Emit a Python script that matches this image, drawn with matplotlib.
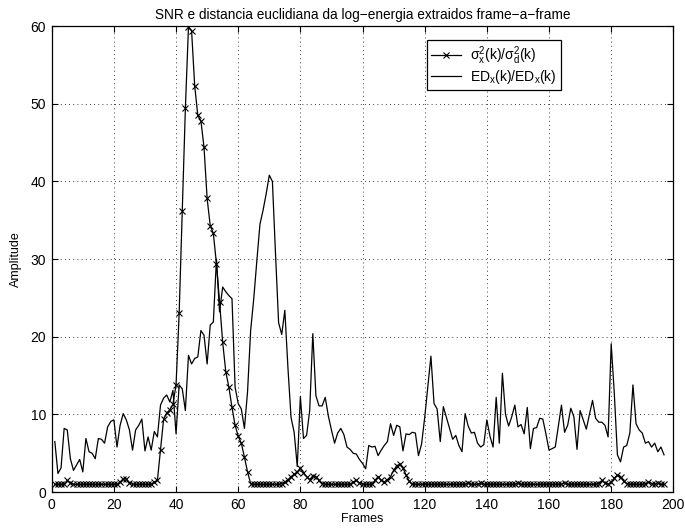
import numpy as np
import matplotlib
matplotlib.use('Agg')
from matplotlib import pyplot as plt

plt.rcParams['font.family'] = ['Liberation Sans', 'DejaVu Sans']

# frame-by-frame values
ed_ratio = [
    6.5, 2.4, 3.1, 8.2, 8.0, 4.3, 2.8, 3.5, 4.2, 2.6,
    6.9, 5.2, 5.0, 4.3, 6.9, 6.8, 6.3, 8.4, 9.1, 9.3,
    5.8, 8.6, 10.1, 9.3, 8.0, 5.4, 8.0, 8.6, 9.4, 5.3,
    7.1, 5.4, 7.8, 7.1, 11.2, 12.1, 12.5, 11.6, 13.1, 7.5,
    13.8, 13.3, 10.5, 17.6, 16.5, 17.2, 17.4, 20.8, 20.2, 16.5,
    21.5, 21.9, 30.0, 23.2, 26.4, 25.8, 25.3, 24.9, 13.5, 11.4,
    10.7, 8.2, 12.9, 20.8, 24.9, 29.8, 34.5, 36.3, 38.4, 40.8,
    40.0, 30.7, 21.8, 20.3, 23.4, 16.0, 9.6, 7.7, 3.3, 12.3,
    6.9, 7.3, 10.5, 20.4, 12.4, 11.1, 11.1, 12.2, 9.8, 8.0,
    6.3, 7.6, 8.2, 7.4, 5.8, 5.5, 5.0, 4.9, 4.2, 3.7,
    3.0, 6.0, 5.8, 5.9, 4.7, 5.4, 6.0, 6.5, 8.8, 7.3,
    8.6, 8.4, 5.3, 7.5, 7.4, 7.7, 7.6, 4.7, 6.2, 9.6,
    13.5, 17.5, 11.4, 10.7, 6.5, 11.0, 9.6, 8.2, 6.8, 7.3,
    6.0, 5.2, 10.1, 8.5, 7.6, 7.7, 6.3, 5.8, 6.1, 9.3,
    7.2, 5.8, 12.2, 6.3, 15.3, 10.0, 8.5, 9.7, 11.2, 8.4,
    8.7, 7.5, 10.9, 5.6, 8.2, 8.3, 9.5, 9.4, 7.5, 5.4,
    5.6, 5.8, 8.5, 11.2, 7.7, 8.6, 10.8, 9.7, 5.5, 10.5,
    9.3, 8.1, 10.0, 11.8, 9.5, 9.0, 9.0, 8.6, 7.1, 19.1,
    12.7, 4.8, 3.9, 5.8, 6.0, 7.6, 13.8, 8.8, 8.0, 7.6,
    6.3, 6.5, 5.8, 6.3, 5.2, 5.8, 4.8,
]

snr_ratio = [
    1.0, 1.0, 1.0, 1.0, 1.5, 1.2, 1.0, 1.0, 1.0, 1.0,
    1.0, 1.0, 1.0, 1.0, 1.0, 1.0, 1.0, 1.0, 1.0, 1.0,
    1.0, 1.3, 1.7, 1.7, 1.2, 1.0, 1.0, 1.0, 1.0, 1.0,
    1.0, 1.0, 1.3, 1.5, 5.4, 9.4, 10.2, 10.6, 11.3, 13.8,
    23.0, 36.2, 49.4, 59.9, 59.4, 52.3, 48.5, 47.8, 44.4, 37.8,
    34.3, 33.3, 29.4, 24.5, 19.3, 15.5, 13.5, 10.9, 8.6, 7.2,
    6.3, 4.5, 2.6, 1.1, 1.0, 1.0, 1.0, 1.0, 1.0, 1.0,
    1.0, 1.0, 1.0, 1.1, 1.3, 1.6, 2.0, 2.3, 2.6, 3.1,
    2.5, 2.0, 1.6, 2.1, 2.0, 1.5, 1.1, 1.0, 1.0, 1.0,
    1.0, 1.0, 1.0, 1.0, 1.0, 1.0, 1.3, 1.5, 1.2, 1.0,
    1.0, 1.0, 1.0, 1.5, 2.0, 1.5, 1.3, 1.6, 2.0, 2.8,
    3.4, 3.6, 3.1, 2.2, 1.4, 1.0, 1.0, 1.0, 1.0, 1.0,
    1.0, 1.0, 1.0, 1.0, 1.0, 1.0, 1.0, 1.0, 1.0, 1.0,
    1.0, 1.0, 1.0, 1.2, 1.0, 1.0, 1.0, 1.2, 1.0, 1.0,
    1.0, 1.0, 1.0, 1.0, 1.0, 1.0, 1.0, 1.0, 1.0, 1.2,
    1.0, 1.0, 1.0, 1.0, 1.0, 1.0, 1.0, 1.0, 1.0, 1.0,
    1.0, 1.0, 1.0, 1.0, 1.2, 1.0, 1.0, 1.0, 1.0, 1.0,
    1.0, 1.0, 1.0, 1.0, 1.0, 1.1, 1.5, 1.2, 1.0, 1.3,
    1.8, 2.2, 1.9, 1.4, 1.1, 1.0, 1.0, 1.0, 1.0, 1.0,
    1.1, 1.3, 1.1, 1.0, 1.2, 1.0, 1.0,
]

frames = np.arange(1, len(ed_ratio) + 1)
x_ticks = list(range(0, 201, 20))
y_ticks = list(range(0, 61, 10))


def main():
    fig = plt.figure(figsize=(6.85, 5.32), dpi=100)
    ax = fig.add_axes([0.0755, 0.075, 0.9075, 0.876])

    ax.plot(frames, snr_ratio, color='k', lw=0.9, marker='x', ms=5, mew=0.8,
            label=r'$\mathregular{\sigma_x^2(k)/\sigma_d^2(k)}$')
    ax.plot(frames, ed_ratio, color='k', lw=0.9,
            label=r'$\mathregular{ED_x(k)/ED_x(k)}$')

    ax.set_xlim(0, 200)
    ax.set_ylim(0, 60)
    ax.set_xticks(x_ticks)
    ax.set_yticks(y_ticks)
    ax.grid(True, color='k', linestyle=(0, (1, 4)), linewidth=0.6)
    ax.tick_params(direction='in', top=True, right=True, length=4,
                   labelsize=10, pad=4)
    for s in ax.spines.values():
        s.set_linewidth(0.9)

    ax.set_xlabel('Frames', fontsize=9, labelpad=1)
    ax.set_ylabel('Amplitude', fontsize=9, labelpad=6)
    ax.set_title('SNR e distancia euclidiana da log\u2212energia extraidos frame\u2212a\u2212frame',
                 fontsize=9.8, pad=5)

    leg = ax.legend(loc='upper left', bbox_to_anchor=(0.603, 0.97),
                    fancybox=False, edgecolor='k', framealpha=1,
                    fontsize=10, handlelength=2.2, borderaxespad=0,
                    borderpad=0.3, handletextpad=0.6, labelspacing=0.1)
    leg.get_frame().set_linewidth(0.9)

    fig.savefig('out.png', dpi=100)


if __name__ == '__main__':
    main()
